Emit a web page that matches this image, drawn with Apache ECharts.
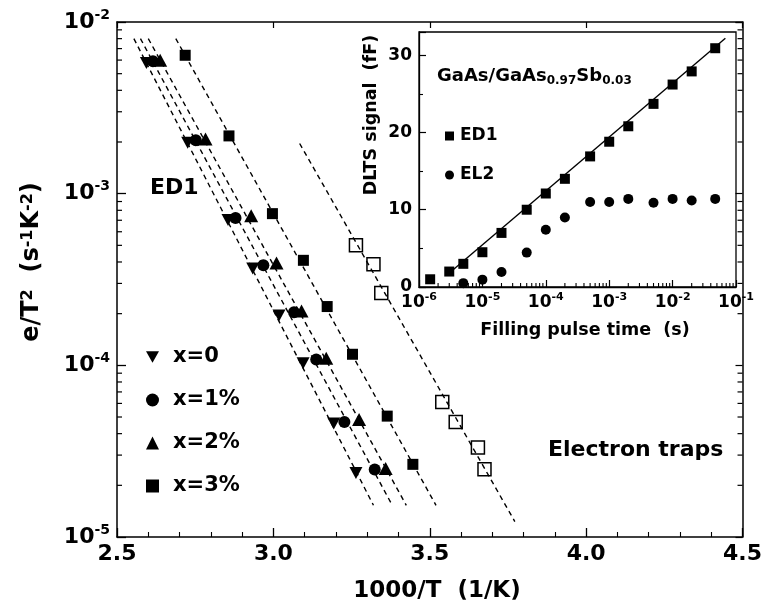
<!DOCTYPE html>
<html><head><meta charset="utf-8">
<script src="https://cdn.jsdelivr.net/npm/echarts@6/dist/echarts.min.js"></script>
<style>html,body{margin:0;padding:0;background:#fff}#c{width:765px;height:607px}</style>
</head><body><div id="c"></div>
<script>
// ---------- main plot data (1000/T , e/T^2) ----------
const xDown = [2.594, 2.726, 2.855, 2.934, 3.018, 3.095, 3.193, 3.264];
const yDown = [5.77e-3, 1.98e-3, 7.03e-4, 3.66e-4, 1.95e-4, 1.03e-4, 4.58e-5, 2.36e-5];
const xCirc = [2.615, 2.752, 2.879, 2.968, 3.066, 3.137, 3.227, 3.324];
const yCirc = [5.90e-3, 2.05e-3, 7.21e-4, 3.83e-4, 2.04e-4, 1.08e-4, 4.68e-5, 2.47e-5];
const xUp = [2.638, 2.783, 2.929, 3.010, 3.090, 3.169, 3.274, 3.359];
const yUp = [5.98e-3, 2.08e-3, 7.43e-4, 3.95e-4, 2.07e-4, 1.10e-4, 4.83e-5, 2.51e-5];
const xSq = [2.718, 2.858, 2.997, 3.096, 3.172, 3.253, 3.364, 3.446];
const ySq = [6.40e-3, 2.17e-3, 7.65e-4, 4.09e-4, 2.20e-4, 1.16e-4, 5.06e-5, 2.65e-5];
const xOpen = [3.264, 3.320, 3.345, 3.540, 3.583, 3.654, 3.675];
const yOpen = [5.01e-4, 3.88e-4, 2.64e-4, 6.12e-5, 4.68e-5, 3.32e-5, 2.48e-5];
// fitted Arrhenius lines: [x1, y1, x2, y2]
const fitDown = [2.554, 8.0e-3, 3.320, 1.53e-5];
const fitCirc = [2.575, 8.0e-3, 3.380, 1.53e-5];
const fitUp   = [2.600, 8.0e-3, 3.425, 1.53e-5];
const fitSq   = [2.688, 8.0e-3, 3.520, 1.53e-5];
const fitOpen = [3.084, 1.96e-3, 3.772, 1.23e-5];
const legendNames = ['x=0', 'x=1%', 'x=2%', 'x=3%'];
const xTicksMain = [2.5, 4.5];
const yTicksMain = [1e-5, 1e-2];
const minorMult = [2, 3, 4, 5, 6, 7, 8, 9];
const mainDecades = [1e-5, 1e-4, 1e-3];

// ---------- inset data (filling pulse time, DLTS signal) ----------
const tED1 = [1.5e-6, 3e-6, 5e-6, 1e-5, 2e-5, 5e-5, 1e-4, 2e-4, 5e-4, 1e-3, 2e-3, 5e-3, 1e-2, 2e-2, 4.7e-2];
const sED1 = [1.0, 2.0, 3.0, 4.5, 7.0, 10.0, 12.1, 14.0, 16.9, 18.8, 20.8, 23.7, 26.2, 27.9, 30.9];
const tEL2 = [5e-6, 1e-5, 2e-5, 5e-5, 1e-4, 2e-4, 5e-4, 1e-3, 2e-3, 5e-3, 1e-2, 2e-2, 4.7e-2];
const sEL2 = [0.5, 0.95, 1.95, 4.45, 7.4, 9.0, 11.0, 11.0, 11.4, 10.9, 11.4, 11.2, 11.4];
const fitED1 = [2.7e-6, 1.5, 6.8e-2, 32.2];
const insetDecades = [1e-6, 1e-5, 1e-4, 1e-3, 1e-2];
const insetX = [1e-6, 1e-1];
const insetY = [0, 33];

// ---------- build ----------
const FONT = '"DejaVu Sans", "Liberation Sans", Arial, sans-serif';
const K = '#000';
const zip = (a, b) => a.map((v, i) => [v, b[i]]);
const seg = f => [[f[0], f[1]], [f[2], f[3]]];
const minorVals = decs => decs.flatMap(d => minorMult.map(m => m * d));
const DOWN = 'path://M0,0L10,0L5,9Z';
const SOLID = { color: K, opacity: 1 };

function dashed(data) {
  return { type: 'line', xAxisIndex: 0, yAxisIndex: 0, data: seg(data), symbol: 'none', silent: true, z: 2,
    lineStyle: { color: K, width: 1.4, type: [5, 4] } };
}
function pts(name, xs, ys, symbol, size, extra) {
  return Object.assign({ name, type: 'scatter', xAxisIndex: 0, yAxisIndex: 0, data: zip(xs, ys), symbol, symbolSize: size, z: 4,
    itemStyle: SOLID }, extra || {});
}
const supRich = (fs, sfs) => ({
  b: { fontSize: fs, fontWeight: 'bold', fontFamily: FONT, color: K, lineHeight: Math.round(fs * 1.25) },
  s: { fontSize: sfs, fontWeight: 'bold', fontFamily: FONT, color: K, verticalAlign: 'top', lineHeight: Math.round(sfs * 1.1) }
});
const powLabel = v => '{b|10}{s|' + Math.round(Math.log10(v)) + '}';

const option = {
  backgroundColor: '#fff',
  animation: false,
  grid: [
    { left: 117, top: 22, width: 628, height: 515 },
    { left: 419, top: 32, width: 317, height: 255, show: true, borderColor: K, borderWidth: 1.3 }
  ],
  xAxis: [
    { type: 'value', gridIndex: 0, min: xTicksMain[0], max: xTicksMain[1], interval: 0.5,
      axisLine: { lineStyle: { color: K, width: 1.5 } },
      axisTick: { inside: true, length: 9, lineStyle: { color: K, width: 1.3 } },
      minorTick: { show: true, splitNumber: 5, length: 5, lineStyle: { color: K, width: 1.1 } },
      splitLine: { show: false },
      axisLabel: { margin: 6, fontSize: 22, fontWeight: 'bold', fontFamily: FONT, color: K, formatter: v => v.toFixed(1) } },
    { type: 'value', gridIndex: 0, position: 'top', min: xTicksMain[0], max: xTicksMain[1], interval: 0.5,
      axisLine: { lineStyle: { color: K, width: 1.5 } },
      axisTick: { inside: true, length: 6, lineStyle: { color: K, width: 1.2 } },
      splitLine: { show: false }, axisLabel: { show: false } },
    { type: 'log', gridIndex: 1, logBase: 10, min: insetX[0], max: insetX[1],
      axisLine: { lineStyle: { color: K, width: 1.3 } },
      axisTick: { inside: true, length: 7, lineStyle: { color: K, width: 1.2 } },
      splitLine: { show: false },
      axisLabel: { margin: 5, formatter: powLabel, rich: supRich(17, 11), alignMaxLabel: 'right' } }
  ],
  yAxis: [
    { type: 'log', gridIndex: 0, logBase: 10, min: yTicksMain[0], max: yTicksMain[1],
      axisLine: { lineStyle: { color: K, width: 1.5 } },
      axisTick: { inside: true, length: 9, lineStyle: { color: K, width: 1.3 } },
      splitLine: { show: false },
      axisLabel: { margin: 7, formatter: powLabel, rich: supRich(22, 14) } },
    { type: 'log', gridIndex: 0, logBase: 10, position: 'right', min: yTicksMain[0], max: yTicksMain[1],
      axisLine: { lineStyle: { color: K, width: 1.5 } },
      axisTick: { inside: true, length: 7, lineStyle: { color: K, width: 1.2 } },
      splitLine: { show: false }, axisLabel: { show: false } },
    { type: 'value', gridIndex: 1, min: insetY[0], max: insetY[1], interval: 10,
      axisLine: { lineStyle: { color: K, width: 1.3 } },
      axisTick: { inside: true, length: 7, lineStyle: { color: K, width: 1.2 } },
      minorTick: { show: true, splitNumber: 2, length: 4, lineStyle: { color: K, width: 1.1 } },
      splitLine: { show: false },
      axisLabel: { margin: 7, showMaxLabel: false, fontSize: 17, fontWeight: 'bold', fontFamily: FONT, color: K } }
  ],
  legend: [
    { orient: 'vertical', left: 141, top: 340, itemWidth: 13, itemHeight: 13, itemGap: 19, selectedMode: false,
      data: [ { name: legendNames[0], icon: DOWN }, { name: legendNames[1], icon: 'circle' },
              { name: legendNames[2], icon: 'triangle' }, { name: legendNames[3], icon: 'rect' } ],
      itemStyle: { opacity: 1 },
      textStyle: { fontSize: 21, fontWeight: 'bold', fontFamily: FONT, color: K, lineHeight: 24, padding: [0, 0, 0, 9] } },
    { orient: 'vertical', left: 440, top: 121, itemWidth: 9, itemHeight: 9, itemGap: 19, selectedMode: false,
      data: [ { name: 'ED1', icon: 'rect' }, { name: 'EL2', icon: 'circle' } ],
      itemStyle: { opacity: 1 },
      textStyle: { fontSize: 17, fontWeight: 'bold', fontFamily: FONT, color: K, lineHeight: 20, padding: [0, 0, 0, 1] } }
  ],
  series: [
    dashed(fitDown), dashed(fitCirc), dashed(fitUp), dashed(fitSq), dashed(fitOpen),
    pts(legendNames[0], xDown, yDown, DOWN, [13, 12]),
    pts(legendNames[1], xCirc, yCirc, 'circle', 12),
    pts(legendNames[2], xUp, yUp, 'triangle', [14, 13]),
    pts(legendNames[3], xSq, ySq, 'rect', 11),
    pts('open', xOpen, yOpen, 'rect', 13, { itemStyle: { color: 'rgba(0,0,0,0)', borderColor: K, borderWidth: 1.5, opacity: 1 } }),
    { type: 'scatter', xAxisIndex: 0, yAxisIndex: 0, silent: true, clip: false, symbol: 'rect', symbolSize: [5, 1.2], symbolOffset: [2.5, 0],
      itemStyle: SOLID, data: minorVals(mainDecades).map(v => [xTicksMain[0], v]) },
    { type: 'scatter', xAxisIndex: 0, yAxisIndex: 0, silent: true, clip: false, symbol: 'rect', symbolSize: [5, 1.2], symbolOffset: [-2.5, 0],
      itemStyle: SOLID, data: minorVals(mainDecades).map(v => [xTicksMain[1], v]) },
    { type: 'line', xAxisIndex: 2, yAxisIndex: 2, data: seg(fitED1), symbol: 'none', silent: true, z: 2,
      lineStyle: { color: K, width: 1.4 } },
    { name: 'ED1', type: 'scatter', xAxisIndex: 2, yAxisIndex: 2, data: zip(tED1, sED1), symbol: 'rect', symbolSize: 10, z: 4, itemStyle: SOLID },
    { name: 'EL2', type: 'scatter', xAxisIndex: 2, yAxisIndex: 2, data: zip(tEL2, sEL2), symbol: 'circle', symbolSize: 10, z: 4, itemStyle: SOLID },
    { type: 'scatter', xAxisIndex: 2, yAxisIndex: 2, silent: true, clip: false, symbol: 'rect', symbolSize: [1.1, 4], symbolOffset: [0, -2],
      itemStyle: SOLID, data: minorVals(insetDecades).map(v => [v, insetY[0]]) }
  ],
  graphic: [
    { type: 'text', x: 150, y: 188, style: { text: 'ED1', fill: K, font: 'bold 22px ' + FONT, align: 'left', verticalAlign: 'middle' } },
    { type: 'text', x: 548, y: 450, style: { text: 'Electron traps', fill: K, font: 'bold 22px ' + FONT, align: 'left', verticalAlign: 'middle' } },
    { type: 'text', x: 32, y: 262, rotation: Math.PI / 2,
      style: { text: 'e/T{s|2}  (s{s|-1}K{s|-2})', fill: K, font: 'bold 24px ' + FONT, align: 'center', verticalAlign: 'middle',
        rich: { s: { fontSize: 16, fontWeight: 'bold', fontFamily: FONT, fill: K, verticalAlign: 'top', lineHeight: 17 } } } },
    { type: 'text', x: 437, y: 591, style: { text: '1000/T  (1/K)', fill: K, font: 'bold 23px ' + FONT, align: 'center', verticalAlign: 'middle' } },
    { type: 'text', x: 371, y: 115, rotation: Math.PI / 2,
      style: { text: 'DLTS signal  (fF)', fill: K, font: 'bold 17.5px ' + FONT, align: 'center', verticalAlign: 'middle' } },
    { type: 'text', x: 585, y: 330, style: { text: 'Filling pulse time  (s)', fill: K, font: 'bold 17.5px ' + FONT, align: 'center', verticalAlign: 'middle' } },
    { type: 'text', left: 437, top: 58,
      style: { text: '{m|GaAs/GaAs}{u|0.97}{m|Sb}{u|0.03}', fill: K, font: 'bold 18px ' + FONT,
        rich: { m: { fontSize: 18, fontWeight: 'bold', fontFamily: FONT, fill: K, verticalAlign: 'top', lineHeight: 20 },
                u: { fontSize: 12, fontWeight: 'bold', fontFamily: FONT, fill: K, verticalAlign: 'bottom', lineHeight: 14, padding: [17, 0, 0, 0] } } } }
  ]
};
const chart = echarts.init(document.getElementById('c'));
chart.setOption(option);
</script></body></html>
